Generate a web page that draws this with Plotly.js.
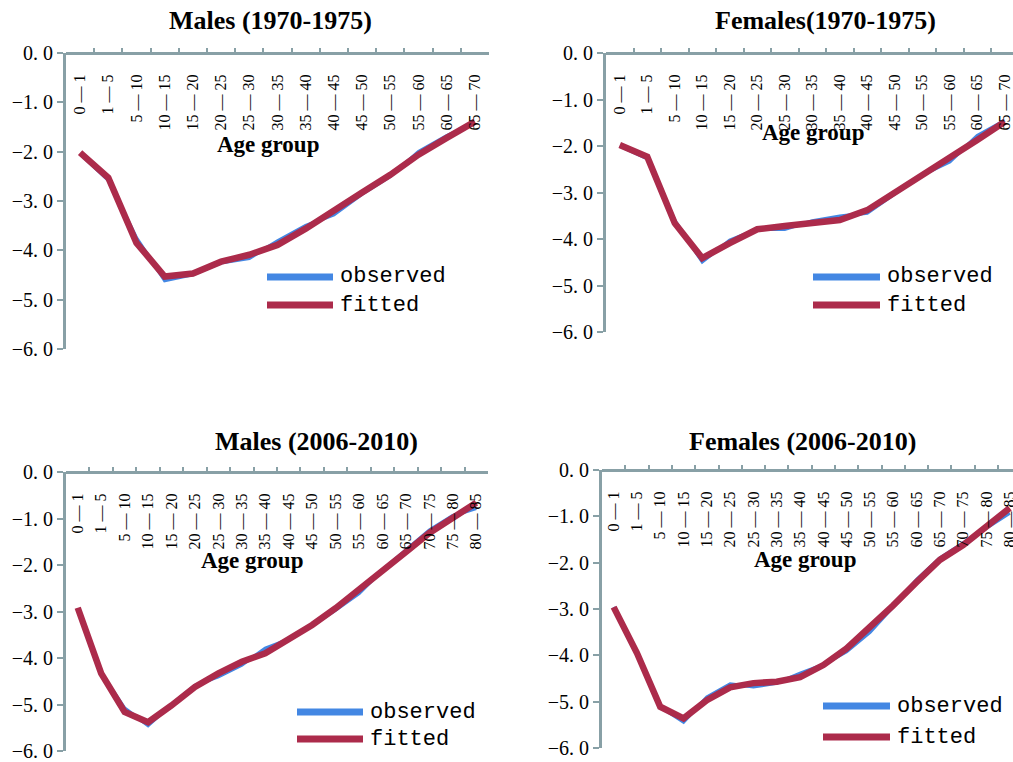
<!DOCTYPE html>
<html>
<head>
<meta charset="utf-8">
<script src="https://cdn.plot.ly/plotly-3.0.1.min.js"></script>
<style>html,body{margin:0;padding:0;background:#fff;}#chart{width:1013px;height:762px;}</style>
</head>
<body>
<div id="chart"></div>
<script>
// ---- data ----
var ageGroups70 = ["0 — 1","1 — 5","5 — 10","10 — 15","15 — 20","20 — 25","25 — 30","30 — 35","35 — 40","40 — 45","45 — 50","50 — 55","55 — 60","60 — 65","65 — 70"];
var ageGroups06 = ["0 — 1","1 — 5","5 — 10","10 — 15","15 — 20","20 — 25","25 — 30","30 — 35","35 — 40","40 — 45","45 — 50","50 — 55","55 — 60","60 — 65","65 — 70","70 — 75","75 — 80","80 — 85"];

var observedM70 = [-2.04, -2.58, -3.75, -4.61, -4.49, -4.25, -4.16, -3.81, -3.50, -3.28, -2.86, -2.50, -2.00, -1.68, -1.42];
var fittedM70   = [-2.02, -2.53, -3.85, -4.53, -4.47, -4.23, -4.09, -3.89, -3.56, -3.21, -2.83, -2.47, -2.06, -1.72, -1.39];

var observedF70 = [-2.00, -2.27, -3.60, -4.49, -4.03, -3.79, -3.79, -3.61, -3.51, -3.44, -3.03, -2.62, -2.34, -1.78, -1.45];
var fittedF70   = [-1.98, -2.23, -3.66, -4.41, -4.09, -3.79, -3.72, -3.66, -3.59, -3.38, -3.01, -2.62, -2.26, -1.87, -1.48];

var observedM06 = [-2.93, -4.33, -5.08, -5.45, -5.00, -4.59, -4.40, -4.15, -3.79, -3.60, -3.30, -2.97, -2.61, -2.11, -1.68, -1.25, -0.94, -0.78];
var fittedM06   = [-2.92, -4.33, -5.16, -5.38, -5.02, -4.62, -4.33, -4.08, -3.90, -3.61, -3.29, -2.93, -2.54, -2.15, -1.72, -1.31, -0.97, -0.66];

var observedF06 = [-2.96, -3.95, -5.11, -5.44, -4.90, -4.62, -4.68, -4.60, -4.39, -4.20, -3.92, -3.50, -2.95, -2.37, -1.90, -1.58, -1.26, -0.93];
var fittedF06   = [-2.96, -3.95, -5.11, -5.36, -4.97, -4.69, -4.60, -4.57, -4.47, -4.21, -3.85, -3.39, -2.92, -2.42, -1.94, -1.62, -1.23, -0.82];

var yTickVals = [0, -1, -2, -3, -4, -5, -6];
var yTickText = ["0. 0", "−1. 0", "−2. 0", "−3. 0", "−4. 0", "−5. 0", "−6. 0"];

var panelTitles = ["Males (1970-1975)", "Females(1970-1975)", "Males (2006-2010)", "Females (2006-2010)"];
var xAxisTitle = "Age group";
var seriesNames = ["observed", "fitted"];

// ---- styling ----
var W = 1013, H = 762;
var BLUE = "#4387E3", RED = "#AC2B4B", AXIS = "#88A0A6";
function px(x){ return x / W; }
function py(y){ return 1 - y / H; }

var panels = [
  {x: ageGroups70, obs: observedM70, fit: fittedM70, xd: [66, 489], yd: [53, 349], xr: [-0.5, 14.5],
   title: [270, 21], xt: [268, 144], leg: [267, 333, 277, 305]},
  {x: ageGroups70, obs: observedF70, fit: fittedF70, xd: [606, 1013], yd: [53, 332], xr: [-0.5, 14.3],
   title: [825, 21], xt: [813, 132], leg: [813, 880, 277, 305]},
  {x: ageGroups06, obs: observedM06, fit: fittedM06, xd: [66, 488], yd: [472, 751], xr: [-0.5, 17.5],
   title: [316, 441], xt: [252, 560], leg: [297, 363, 712, 739]},
  {x: ageGroups06, obs: observedF06, fit: fittedF06, xd: [602, 1013], yd: [470, 748], xr: [-0.5, 17.14],
   title: [802, 441], xt: [805, 559], leg: [823, 890, 706, 737]}
];

var traces = [], shapes = [], annotations = [];
var layout = {
  width: W, height: H, margin: {l: 0, r: 0, t: 0, b: 0},
  paper_bgcolor: "#fff", plot_bgcolor: "#fff", showlegend: false
};

panels.forEach(function(p, i){
  var n = i === 0 ? "" : String(i + 1);
  var xa = "x" + n, ya = "y" + n;
  traces.push({type: "scatter", mode: "lines", x: p.x, y: p.obs, name: seriesNames[0],
    xaxis: xa, yaxis: ya, line: {color: BLUE, width: 3.5}, hoverinfo: "x+y"});
  traces.push({type: "scatter", mode: "lines", x: p.x, y: p.fit, name: seriesNames[1],
    xaxis: xa, yaxis: ya, line: {color: RED, width: 6.5}, hoverinfo: "x+y"});

  // x axis sits at the top edge (y = 0) with labels hanging into the plot
  layout["xaxis" + n] = {
    domain: [px(p.xd[0]), px(p.xd[1])], anchor: "free", position: py(p.yd[0]), side: "bottom",
    type: "category", range: p.xr, showline: true, linecolor: AXIS, linewidth: 3,
    ticks: "inside", ticklen: 4, tickwidth: 2, tickcolor: AXIS, tickson: "boundaries",
    tickangle: -90, ticklabelstandoff: 13,
    tickfont: {family: "Liberation Serif", size: 16, color: "#000"},
    showgrid: false, zeroline: false, fixedrange: true
  };
  layout["yaxis" + n] = {
    domain: [py(p.yd[1]), py(p.yd[0])], anchor: xa, range: [-6, 0],
    tickvals: yTickVals, ticktext: yTickText, showline: true, linecolor: AXIS, linewidth: 3,
    ticks: "outside", ticklen: 6, tickwidth: 2, tickcolor: AXIS,
    tickfont: {family: "Liberation Serif", size: 20, color: "#000"},
    showgrid: false, zeroline: false, fixedrange: true
  };

  annotations.push({text: "<b>" + panelTitles[i] + "</b>", xref: "paper", yref: "paper",
    x: px(p.title[0]), y: py(p.title[1]), xanchor: "center", yanchor: "middle", showarrow: false,
    font: {family: "Liberation Serif", size: 26, color: "#000"}});
  annotations.push({text: "<b>" + xAxisTitle + "</b>", xref: "paper", yref: "paper",
    x: px(p.xt[0]), y: py(p.xt[1]), xanchor: "center", yanchor: "middle", showarrow: false,
    font: {family: "Liberation Serif", size: 23, color: "#000"}});

  // legend keys
  [BLUE, RED].forEach(function(c, k){
    var yy = p.leg[2 + k];
    shapes.push({type: "line", xref: "paper", yref: "paper",
      x0: px(p.leg[0]), x1: px(p.leg[1]), y0: py(yy), y1: py(yy),
      line: {color: c, width: 7}});
    annotations.push({text: seriesNames[k], xref: "paper", yref: "paper",
      x: px(p.leg[1] + 5), y: py(yy), xanchor: "left", yanchor: "middle", showarrow: false,
      font: {family: "Liberation Mono", size: 22, color: "#000"}});
  });
});

layout.shapes = shapes;
layout.annotations = annotations;

Plotly.newPlot("chart", traces, layout, {staticPlot: true, displayModeBar: false});
</script>
</body>
</html>
